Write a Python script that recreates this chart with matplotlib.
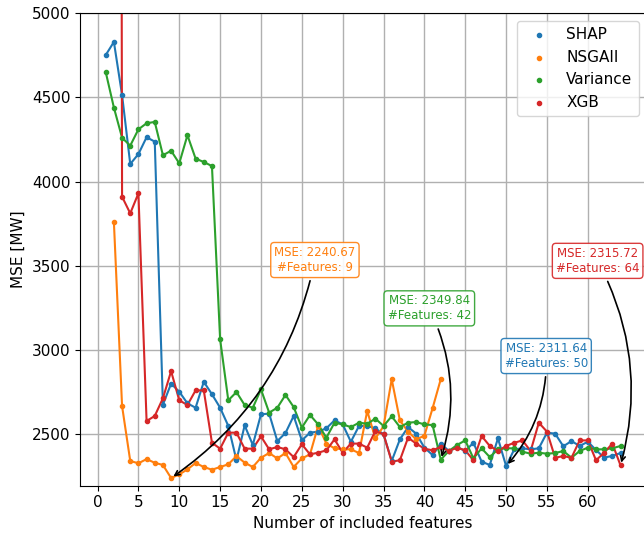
import matplotlib
matplotlib.use('Agg')
import matplotlib.pyplot as plt
import numpy as np

plt.rcParams['font.size'] = 11

# MSE per number of included features
shap_x = list(range(1, 65))
shap_mse = [4752, 4830, 4515, 4105, 4164, 4264, 4238, 2676, 2801, 2753,
            2684, 2658, 2812, 2738, 2658, 2550, 2346, 2553, 2437, 2619,
            2623, 2460, 2508, 2609, 2464, 2510, 2516, 2536, 2583, 2559,
            2456, 2550, 2550, 2536, 2500, 2342, 2470, 2543, 2504, 2421,
            2377, 2445, 2401, 2425, 2401, 2450, 2338, 2318, 2476, 2311.64,
            2411, 2417, 2411, 2417, 2510, 2504, 2429, 2460, 2431, 2456,
            2407, 2362, 2372, 2389]

nsga_x = list(range(2, 43))
nsga_mse = [3760, 2668, 2342, 2328, 2353, 2331, 2318, 2240.67, 2262, 2292,
            2330, 2306, 2290, 2306, 2322, 2371, 2332, 2306, 2361, 2389,
            2357, 2389, 2306, 2357, 2381, 2551, 2445, 2417, 2411, 2411,
            2389, 2639, 2476, 2548, 2827, 2583, 2516, 2470, 2492, 2655,
            2827]

var_x = list(range(1, 65))
var_mse = [4651, 4440, 4261, 4214, 4311, 4347, 4355, 4157, 4184, 4109,
           4276, 4137, 4117, 4093, 3064, 2702, 2751, 2674, 2658, 2767,
           2629, 2658, 2734, 2662, 2540, 2615, 2559, 2480, 2569, 2559,
           2543, 2569, 2563, 2593, 2550, 2607, 2543, 2569, 2573, 2559,
           2555, 2349.84, 2401, 2437, 2464, 2357, 2417, 2365, 2411, 2417,
           2417, 2397, 2385, 2391, 2385, 2389, 2401, 2361, 2401, 2421,
           2411, 2411, 2417, 2431]

xgb_x = list(range(2, 65))
xgb_mse = [30000, 3911, 3812, 3931, 2579, 2609, 2714, 2875, 2702,
           2674, 2761, 2761, 2450, 2415, 2510, 2510, 2415, 2415, 2488,
           2411, 2425, 2411, 2365, 2441, 2381, 2391, 2405, 2470, 2391,
           2445, 2445, 2421, 2520, 2500, 2338, 2346, 2480, 2445, 2415,
           2405, 2425, 2401, 2421, 2405, 2346, 2490, 2431, 2401, 2431,
           2450, 2464, 2401, 2569, 2516, 2361, 2371, 2361, 2464, 2464,
           2346, 2391, 2445, 2315.72]

series = [('SHAP', shap_x, shap_mse, 'C0'),
          ('NSGAII', nsga_x, nsga_mse, 'C1'),
          ('Variance', var_x, var_mse, 'C2'),
          ('XGB', xgb_x, xgb_mse, 'C3')]

# best points and where their labels go (data coords)
best = [('SHAP', 50, 2311.64, (54.9, 2965), 'C0'),
        ('NSGAII', 9, 2240.67, (26.6, 3535), 'C1'),
        ('Variance', 42, 2349.84, (40.6, 3248), 'C2'),
        ('XGB', 64, 2315.72, (61.2, 3530), 'C3')]

fig = plt.figure(figsize=(6.44, 5.38), dpi=100)
ax = fig.add_axes([0.1242, 0.0972, 0.8793, 0.8781])

for name, x, y, c in series:
    ax.plot(x, y, '-', color=c, lw=1.5)
    ax.scatter(x, y, s=9, color=c, label=name, zorder=2.5)

for name, bx, by, txt_pos, c in best:
    ax.annotate(f'MSE: {by:.2f}\n#Features: {bx}', xy=(bx, by), xytext=txt_pos,
                ha='center', va='center', fontsize=8.5, color=c,
                bbox=dict(boxstyle='round,pad=0.3', fc='white', ec=c, alpha=0.9),
                arrowprops=dict(arrowstyle='->', color='black', lw=1.2,
                                connectionstyle='arc3,rad=-0.2'))

ax.set_xlim(-2.15, 67.15)
ax.set_ylim(2195, 5000)
ax.set_xticks(np.arange(0, 61, 5))
ax.set_yticks(np.arange(2500, 5001, 500))
ax.grid(True, lw=1.0)
ax.set_xlabel('Number of included features')
ax.set_ylabel('MSE [MW]')
ax.legend(loc='upper right')

fig.savefig('out.png', dpi=100)
